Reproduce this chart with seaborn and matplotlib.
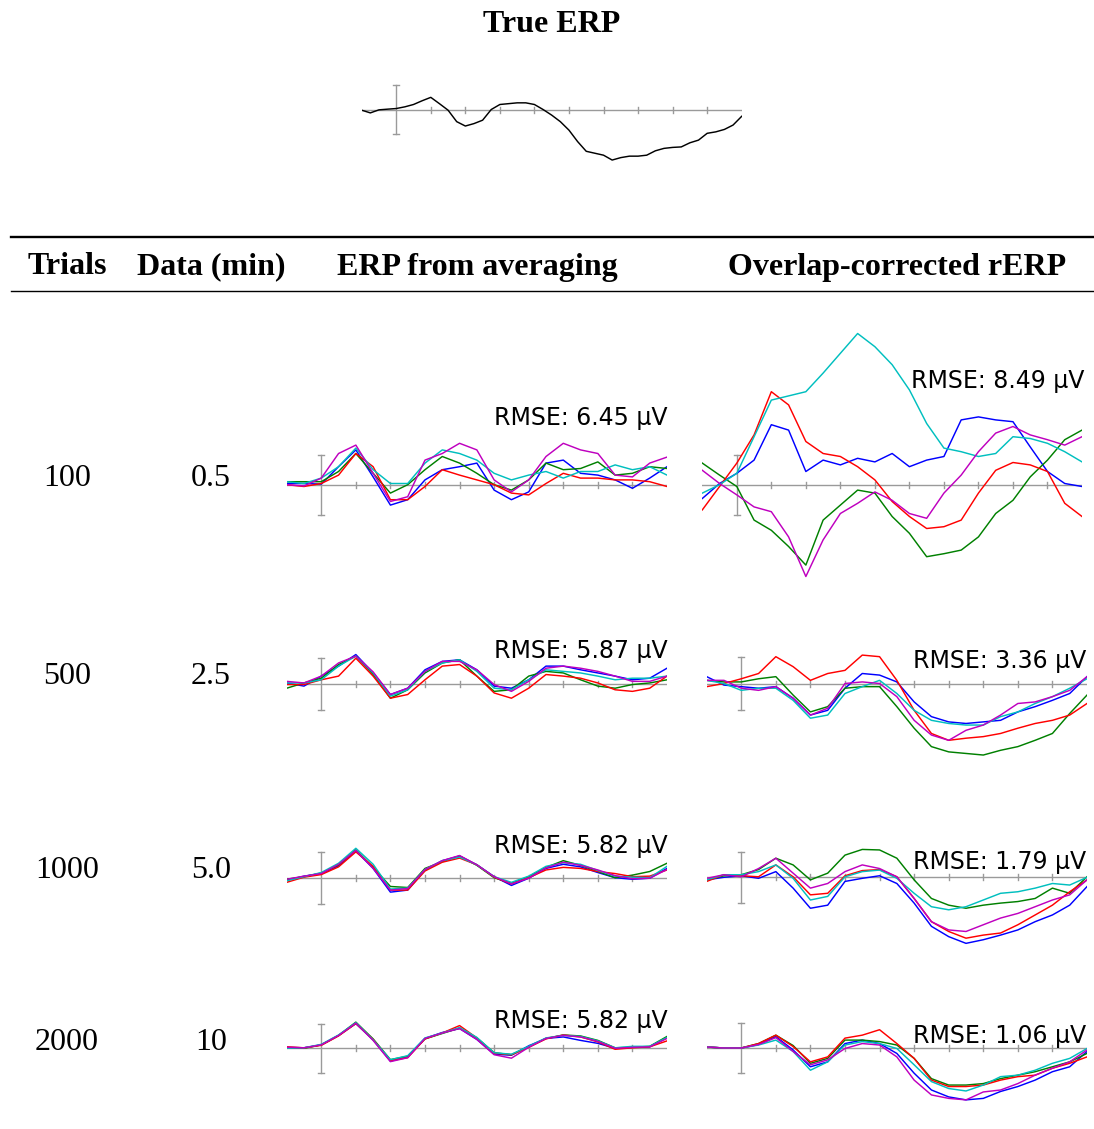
import numpy as np
import pandas as pd
import matplotlib
matplotlib.use("Agg")
import matplotlib.pyplot as plt
import seaborn as sns

# ---------------- data (µV, scale bar = ±5 µV) ----------------
T_TRUE = list(range(-100, 1001, 25))
TRUE_ERP = [-0.14, -0.7, -0.07, 0.07, 0.2, 0.55, 1.03, 1.8, 2.5, 1.2, -0.14, -2.5,
            -3.4, -2.9, -2.2, 0.0, 1.03, 1.2, 1.37, 1.37, 1.03, 0.0, -1.16, -2.5,
            -4.25, -6.6, -8.6, -9.0, -9.4, -10.4, -9.9, -9.6, -9.6, -9.4, -8.5, -8.0,
            -7.8, -7.7, -6.85, -6.3, -4.9, -4.6, -4.1, -3.2, -1.4]

T = list(range(-100, 1001, 50))
SERIES = ["blue", "green", "red", "cyan", "magenta"]
COLORS = {"blue": "#0000ff", "green": "#008000", "red": "#ff0000",
          "cyan": "#00bfbf", "magenta": "#bf00bf"}

AVG_100 = {
    "blue":    [0.3, 0.3, 0.2, 3.1, 5.9, 1.4, -3.3, -2.4, 0.9, 2.6, 3.1, 3.7, -0.8, -2.4, -1.1, 3.7, 4.2, 2.0, 1.7, 0.9, -0.5, 1.2, 3.1],
    "green":   [0.6, 0.6, 0.6, 2.3, 5.3, 2.0, -1.3, 0.1, 2.6, 4.8, 3.7, 2.0, 0.1, -0.8, 0.9, 3.7, 2.6, 2.8, 3.9, 1.7, 2.0, 3.1, 2.8],
    "red":     [0.1, -0.2, 0.3, 1.7, 5.3, 3.1, -2.4, -2.4, -0.2, 2.6, 1.7, 0.9, 0.1, -1.3, -1.6, 0.3, 2.0, 1.2, 1.2, 0.9, 0.9, 0.6, -0.2],
    "cyan":    [0.6, 0.3, 1.2, 3.1, 6.2, 2.6, 0.3, 0.3, 3.7, 5.9, 5.3, 4.2, 2.0, 0.9, 1.7, 2.3, 1.2, 2.3, 2.3, 3.4, 2.6, 3.1, 1.7],
    "magenta": [0.1, -0.1, 1.2, 5.3, 6.7, 2.0, -2.7, -1.9, 4.2, 5.3, 7.0, 5.9, 0.9, -1.1, 0.9, 4.8, 7.0, 5.9, 5.3, 1.7, 1.4, 3.7, 4.7],
}
RERP_100 = {
    "blue":    [-2.3, 0.2, 1.9, 4.1, 10.0, 9.1, 2.2, 4.1, 3.3, 4.4, 3.8, 5.2, 3.0, 4.1, 4.7, 10.8, 11.3, 10.8, 10.5, 6.3, 2.2, 0.2, -0.3],
    "green":   [3.6, 1.6, -0.3, -5.9, -7.6, -10.3, -13.4, -5.9, -3.4, -0.9, -1.4, -5.3, -8.1, -12.0, -11.5, -10.9, -8.7, -4.8, -2.6, 1.3, 4.1, 7.5, 9.1],
    "red":     [-4.2, -0.3, 3.6, 8.3, 15.5, 13.3, 7.2, 5.2, 4.7, 3.0, 0.8, -2.8, -5.3, -7.3, -7.0, -5.9, -1.4, 2.4, 3.7, 3.3, 2.2, -3.1, -5.3],
    "cyan":    [-1.4, 0.0, 1.9, 8.0, 14.1, 14.8, 15.5, 18.6, 21.9, 25.2, 23.0, 20.0, 15.8, 10.2, 6.1, 5.5, 4.7, 5.2, 8.0, 7.7, 6.9, 5.5, 3.8],
    "magenta": [2.4, 0.2, -1.7, -3.7, -4.5, -8.7, -15.3, -9.2, -4.8, -3.1, -1.2, -2.6, -4.8, -5.6, -1.4, 1.6, 5.5, 8.6, 9.7, 8.3, 7.5, 6.6, 8.0],
}
AVG_500 = {
    "blue":    [0.2, -0.4, 1.5, 3.4, 5.6, 2.1, -2.0, -0.8, 2.7, 4.3, 4.6, 2.7, -0.4, -0.8, 0.8, 3.4, 3.4, 2.7, 2.1, 1.5, 0.8, 1.1, 3.0],
    "green":   [-0.8, 0.2, 1.1, 3.7, 5.3, 1.8, -2.7, -1.1, 2.1, 4.0, 4.6, 1.5, -1.4, -1.1, 1.5, 2.4, 2.1, 0.8, -0.4, -0.8, -0.1, 0.2, 0.8],
    "red":     [-0.1, -0.1, 0.8, 1.5, 4.9, 1.5, -2.7, -2.0, 0.8, 3.4, 3.7, 1.5, -1.7, -2.7, -0.8, 1.8, 1.5, 1.1, 0.2, -1.1, -1.4, -0.8, 1.5],
    "cyan":    [0.2, 0.2, 0.8, 3.4, 5.3, 2.1, -2.3, -1.1, 2.4, 4.0, 4.6, 2.4, -0.8, -1.1, 0.8, 2.7, 2.4, 2.1, 1.5, 0.8, 1.1, 1.1, 1.5],
    "magenta": [0.5, 0.2, 1.5, 4.0, 5.3, 2.3, -2.0, -0.8, 2.4, 4.3, 4.3, 2.7, -0.1, -1.4, 0.5, 3.0, 3.4, 3.0, 2.4, 1.5, 0.5, 0.5, 1.5],
}
RERP_500 = {
    "blue":    [1.3, -0.3, -0.6, -0.9, -0.6, -2.8, -6.0, -5.1, -0.9, 1.9, 1.6, 0.3, -3.5, -6.3, -7.3, -7.6, -7.3, -7.0, -5.4, -4.4, -3.2, -1.9, 1.3],
    "green":   [0.6, 0.3, 0.3, 0.9, 1.3, -2.2, -5.4, -4.4, -0.9, -0.6, -0.6, -4.4, -8.5, -12.0, -13.0, -13.3, -13.6, -12.7, -12.0, -10.8, -9.5, -5.7, -2.2],
    "red":     [-0.6, 0.0, 0.9, 1.9, 5.1, 3.2, 0.6, 1.9, 2.5, 5.4, 5.1, 0.6, -5.1, -9.5, -10.8, -10.4, -10.1, -9.5, -8.5, -7.6, -7.0, -6.0, -3.8],
    "cyan":    [0.6, 0.0, -1.3, -0.9, -0.9, -3.2, -6.6, -6.0, -1.9, -0.6, 0.6, -1.9, -5.1, -7.0, -7.6, -7.9, -7.9, -6.3, -5.4, -3.8, -2.5, -0.9, 0.9],
    "magenta": [0.6, 0.6, -0.9, -1.3, -0.6, -2.8, -6.0, -4.7, 0.0, 0.3, 0.0, -2.5, -7.0, -9.8, -10.8, -8.9, -7.9, -6.0, -3.8, -3.5, -2.5, -1.3, 1.3],
}
AVG_1000 = {
    "blue":    [-0.5, 0.3, 0.8, 2.3, 5.2, 1.8, -2.8, -2.4, 1.5, 3.3, 4.2, 2.5, 0.2, -1.5, -0.1, 1.8, 2.6, 2.1, 1.0, 0.0, -0.3, -0.1, 1.8],
    "green":   [-0.3, 0.2, 0.9, 2.5, 5.4, 2.0, -1.7, -1.9, 1.8, 3.1, 4.2, 2.4, 0.0, -1.1, 0.2, 2.0, 3.3, 2.4, 1.2, 0.0, 0.5, 1.2, 2.8],
    "red":     [-0.9, 0.1, 0.6, 2.1, 5.0, 2.2, -2.4, -2.4, 1.3, 3.0, 3.8, 2.5, 0.1, -1.2, 0.0, 1.5, 2.0, 1.8, 1.2, 0.8, 0.2, 0.3, 1.5],
    "cyan":    [-0.6, 0.2, 1.0, 2.8, 5.7, 2.6, -2.2, -2.0, 1.6, 3.3, 4.0, 2.5, 0.2, -0.9, 0.3, 2.2, 2.9, 2.6, 1.4, 0.3, 0.1, 0.0, 2.2],
    "magenta": [-0.3, 0.3, 0.8, 2.6, 5.3, 1.8, -2.4, -2.1, 1.6, 3.3, 4.3, 2.5, 0.2, -1.2, -0.1, 1.9, 3.0, 2.4, 1.5, 0.4, -0.2, -0.1, 1.6],
}
RERP_1000 = {
    "blue":    [-0.5, 0.0, 0.3, -0.2, 1.1, -2.1, -6.0, -5.4, -0.8, -0.2, 0.3, -1.2, -5.0, -9.5, -11.5, -12.8, -12.1, -11.2, -10.2, -8.6, -7.3, -5.4, -1.8],
    "green":   [-0.5, 0.3, 0.5, 1.5, 3.7, 2.4, -0.5, 0.8, 4.3, 5.4, 5.3, 3.7, -0.5, -4.1, -5.4, -6.0, -5.4, -5.0, -4.7, -4.1, -2.1, -3.1, 0.1],
    "red":     [-0.8, 0.5, 0.3, 0.1, 2.4, 0.1, -3.4, -3.1, 0.3, 1.3, 1.5, 0.1, -4.1, -8.6, -10.5, -11.8, -11.2, -10.8, -9.2, -7.3, -5.4, -2.8, -0.5],
    "cyan":    [-0.5, 0.5, 0.5, 1.1, 2.4, -0.2, -4.4, -3.7, 0.1, 1.1, 1.4, -0.2, -3.1, -5.7, -6.3, -5.7, -4.4, -3.1, -2.8, -2.1, -1.2, -1.5, 0.0],
    "magenta": [-0.2, 0.5, 0.1, 1.7, 3.7, 0.8, -2.1, -1.2, 1.1, 2.4, 1.7, 0.1, -4.1, -8.6, -10.2, -10.5, -9.2, -7.9, -7.0, -5.7, -4.4, -3.4, -0.5],
}
AVG_2000 = {
    "blue":    [0.2, 0.1, 0.7, 2.6, 5.0, 1.7, -2.6, -1.7, 2.0, 3.2, 4.0, 1.8, -1.2, -1.4, 0.5, 2.0, 2.3, 1.6, 1.0, 0.0, 0.2, 0.3, 2.2],
    "green":   [0.1, 0.0, 0.7, 2.6, 5.3, 1.9, -2.3, -1.6, 1.9, 3.0, 4.1, 2.1, -0.9, -1.3, 0.3, 2.0, 2.7, 2.5, 1.6, 0.1, 0.2, 0.4, 2.4],
    "red":     [0.3, 0.1, 0.6, 2.5, 5.0, 1.8, -2.5, -1.9, 1.9, 3.1, 4.6, 2.1, -1.0, -1.3, 0.2, 1.9, 2.7, 2.3, 1.3, -0.2, 0.1, 0.3, 1.5],
    "cyan":    [0.0, 0.1, 0.8, 2.7, 5.2, 1.7, -2.3, -1.5, 2.1, 3.1, 4.2, 2.2, -0.9, -1.2, 0.4, 2.1, 2.6, 2.4, 1.5, 0.1, 0.4, 0.4, 2.2],
    "magenta": [0.2, 0.1, 0.7, 2.6, 5.1, 1.6, -2.7, -1.9, 2.0, 3.1, 4.0, 1.8, -1.3, -2.0, 0.2, 2.0, 2.6, 2.3, 1.4, 0.0, 0.2, 0.3, 2.0],
}
RERP_2000 = {
    "blue":    [0.2, 0.0, 0.0, 0.7, 2.3, -0.4, -3.8, -2.8, 0.9, 1.6, 0.9, -1.1, -5.1, -8.5, -9.9, -10.5, -10.2, -8.8, -7.8, -6.5, -4.8, -3.8, -0.7],
    "green":   [0.2, 0.0, 0.0, 0.9, 2.6, 0.5, -3.1, -2.1, 1.6, 1.6, 1.3, 0.6, -2.1, -6.2, -7.5, -7.5, -7.2, -6.2, -5.5, -4.8, -3.8, -2.8, -1.1],
    "red":     [0.2, 0.0, 0.0, 0.9, 2.6, 0.3, -2.8, -1.8, 2.0, 2.6, 3.7, 0.9, -2.1, -6.5, -7.8, -7.8, -7.5, -6.5, -5.8, -5.5, -4.1, -3.1, -1.8],
    "cyan":    [0.2, 0.0, 0.0, 0.6, 1.6, -0.7, -4.5, -2.8, 0.6, 1.3, 0.9, -0.1, -3.4, -6.8, -8.2, -8.7, -7.5, -5.8, -5.5, -4.5, -3.1, -2.1, -0.1],
    "magenta": [0.2, 0.0, 0.0, 0.7, 2.1, -0.7, -3.4, -2.4, -0.1, 0.9, 0.6, -1.8, -6.5, -9.5, -10.2, -10.5, -8.9, -8.5, -7.2, -5.5, -4.1, -2.8, -0.4],
}

TRIALS = ["100", "500", "1000", "2000"]
MINUTES = ["0.5", "2.5", "5.0", "10"]
RMSE_AVG = ["6.45", "5.87", "5.82", "5.82"]
RMSE_RERP = ["8.49", "3.36", "1.79", "1.06"]
HEADERS = ["Trials", "Data (min)", "ERP from averaging", "Overlap-corrected rERP"]

# ---------------- layout ----------------
W, H = 1094, 1129
fig = plt.figure(figsize=(W / 100, H / 100), dpi=100)
SERIF = ["Liberation Serif", "DejaVu Serif"]
AXC = "#9a9a9a"
SERIF_SIZE = 23


def px_text(x, y, s, **kw):
    fig.text(x / W, 1 - y / H, s, **kw)


def panel(L, R, B, S, t, curves):
    Hh = 180
    ax = fig.add_axes([L / W, 1 - (B + Hh) / H, (R - L) / W, 2 * Hh / H])
    ax.set_xlim(-100, 1000)
    lim = Hh / S * 5
    ax.set_ylim(-lim, lim)
    ax.axis("off")
    u = 5 / S  # µV per pixel
    ax.plot([-100, 1000], [0, 0], color=AXC, lw=1.0, zorder=1)
    for tk in range(100, 1000, 100):
        ax.plot([tk, tk], [-3 * u, 3 * u], color=AXC, lw=1.0, zorder=1)
    ax.plot([0, 0], [-5, 5], color=AXC, lw=1.0, zorder=1)
    for yv in (-5, 5):
        ax.plot([-9, 9], [yv, yv], color=AXC, lw=1.0, zorder=1)
    frames = [pd.DataFrame({"t": t, "v": vals, "s": name}) for name, vals in curves.items()]
    df = pd.concat(frames, ignore_index=True)
    sns.lineplot(data=df, x="t", y="v", hue="s", palette=COLORS if len(curves) > 1 else ["black"],
                 estimator=None, sort=False, legend=False, lw=1.05, ax=ax, zorder=3)
    return ax


# True ERP
px_text(552, 25, "True ERP", ha="center", va="center", family=SERIF, weight="bold", fontsize=SERIF_SIZE)
panel(361.7, 741.7, 109.5, 24.3, T_TRUE, {"true": TRUE_ERP})

# header rules
line_ax = fig.add_axes([0, 0, 1, 1])
line_ax.set_xlim(0, W)
line_ax.set_ylim(H, 0)
line_ax.axis("off")
line_ax.plot([11, 1093], [237, 237], color="black", lw=1.7)
line_ax.plot([11, 1093], [291, 291], color="black", lw=1.0)

for x, s in zip([67, 211, 477, 897], HEADERS):
    px_text(x, 267, s, ha="center", va="center", family=SERIF, weight="bold", fontsize=SERIF_SIZE)

rows = [
    dict(ly=478, avg=(286.7, 667, 485.3, 30), rerp=(702.3, 1082, 484.7, 30),
         ra=417, rr=380, rrx=1084, A=AVG_100, R=RERP_100),
    dict(ly=677, avg=(286.7, 667, 684.0, 26.3), rerp=(706.7, 1087, 683.5, 26.3),
         ra=650, rr=660, rrx=1086, A=AVG_500, R=RERP_500),
    dict(ly=871, avg=(286.7, 667, 877.7, 25.8), rerp=(706.7, 1087, 877.3, 25.8),
         ra=845, rr=861, rrx=1086, A=AVG_1000, R=RERP_1000),
    dict(ly=1042, avg=(286.7, 667, 1048.3, 24.7), rerp=(706.7, 1087, 1048, 24.7),
         ra=1020, rr=1035, rrx=1086, A=AVG_2000, R=RERP_2000),
]

for i, r in enumerate(rows):
    px_text(67, r["ly"], TRIALS[i], ha="center", va="center", family=SERIF, fontsize=SERIF_SIZE)
    px_text(211, r["ly"], MINUTES[i], ha="center", va="center", family=SERIF, fontsize=SERIF_SIZE)
    panel(*r["avg"], T, {k: r["A"][k] for k in SERIES})
    panel(*r["rerp"], T, {k: r["R"][k] for k in SERIES})
    px_text(668, r["ra"] + 1, f"RMSE: {RMSE_AVG[i]} µV", ha="right", va="center",
            family="DejaVu Sans", fontsize=17)
    px_text(r["rrx"], r["rr"] + 1, f"RMSE: {RMSE_RERP[i]} µV", ha="right", va="center",
            family="DejaVu Sans", fontsize=17)

fig.savefig("out.png", dpi=100, facecolor="white")
